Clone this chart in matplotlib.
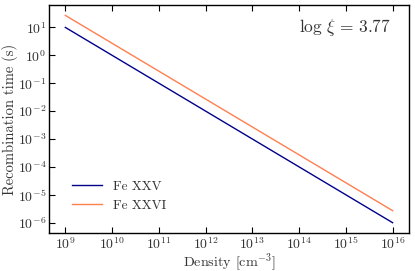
import matplotlib
matplotlib.use('Agg')
import matplotlib.pyplot as plt
import numpy as np

# ---- data ----
density = [1e9, 1e16]
t_fe25 = [10.0, 1.0e-6]
t_fe26 = [27.0, 2.7e-6]
labels = ['Fe XXV', 'Fe XXVI']
colors = ['#00008b', '#ff7f50']
log_xi = 3.77

plt.rcParams['font.family'] = 'serif'
plt.rcParams['font.serif'] = ['cmr10']
plt.rcParams['mathtext.fontset'] = 'cm'
plt.rcParams['axes.formatter.use_mathtext'] = True

fig, ax = plt.subplots(figsize=(4.15, 2.71), dpi=100)
fig.subplots_adjust(left=0.118, right=0.9855, bottom=0.140, top=0.9815)

ax.plot(density, t_fe25, color=colors[0], lw=1.0, label=labels[0])
ax.plot(density, t_fe26, color=colors[1], lw=1.0, label=labels[1])
ax.set_xscale('log'); ax.set_yscale('log')

ax.set_xticks([10.0**k for k in range(9, 17)])
ax.set_yticks([10.0**k for k in range(-6, 2)])
ax.minorticks_off()
ax.tick_params(which='both', direction='in', top=True, right=False,
               labelsize=10, length=4, width=0.8, pad=2,
               colors='black', labelcolor='#333333')
for s in ax.spines.values():
    s.set_linewidth(1.0)

ax.set_xlabel(r'Density [cm$^{-3}$]', fontsize=10.2, color='#333333')
ax.set_ylabel('Recombination time (s)', fontsize=10.5, color='#333333')
ax.xaxis.set_label_coords(0.5, -0.079)
ax.yaxis.set_label_coords(-0.087, 0.5)
ax.text(0.95, 0.9, r'$\log\,\xi\, =\, %.2f$' % log_xi, transform=ax.transAxes,
        ha='right', va='center', fontsize=12.5, color='#333333')

leg = ax.legend(loc='lower left', frameon=False, fontsize=9.5,
                bbox_to_anchor=(0.049, 0.07), borderaxespad=0,
                handlelength=2.3)
for t in leg.get_texts():
    t.set_color('#333333')

fig.savefig('out.png', dpi=100)
